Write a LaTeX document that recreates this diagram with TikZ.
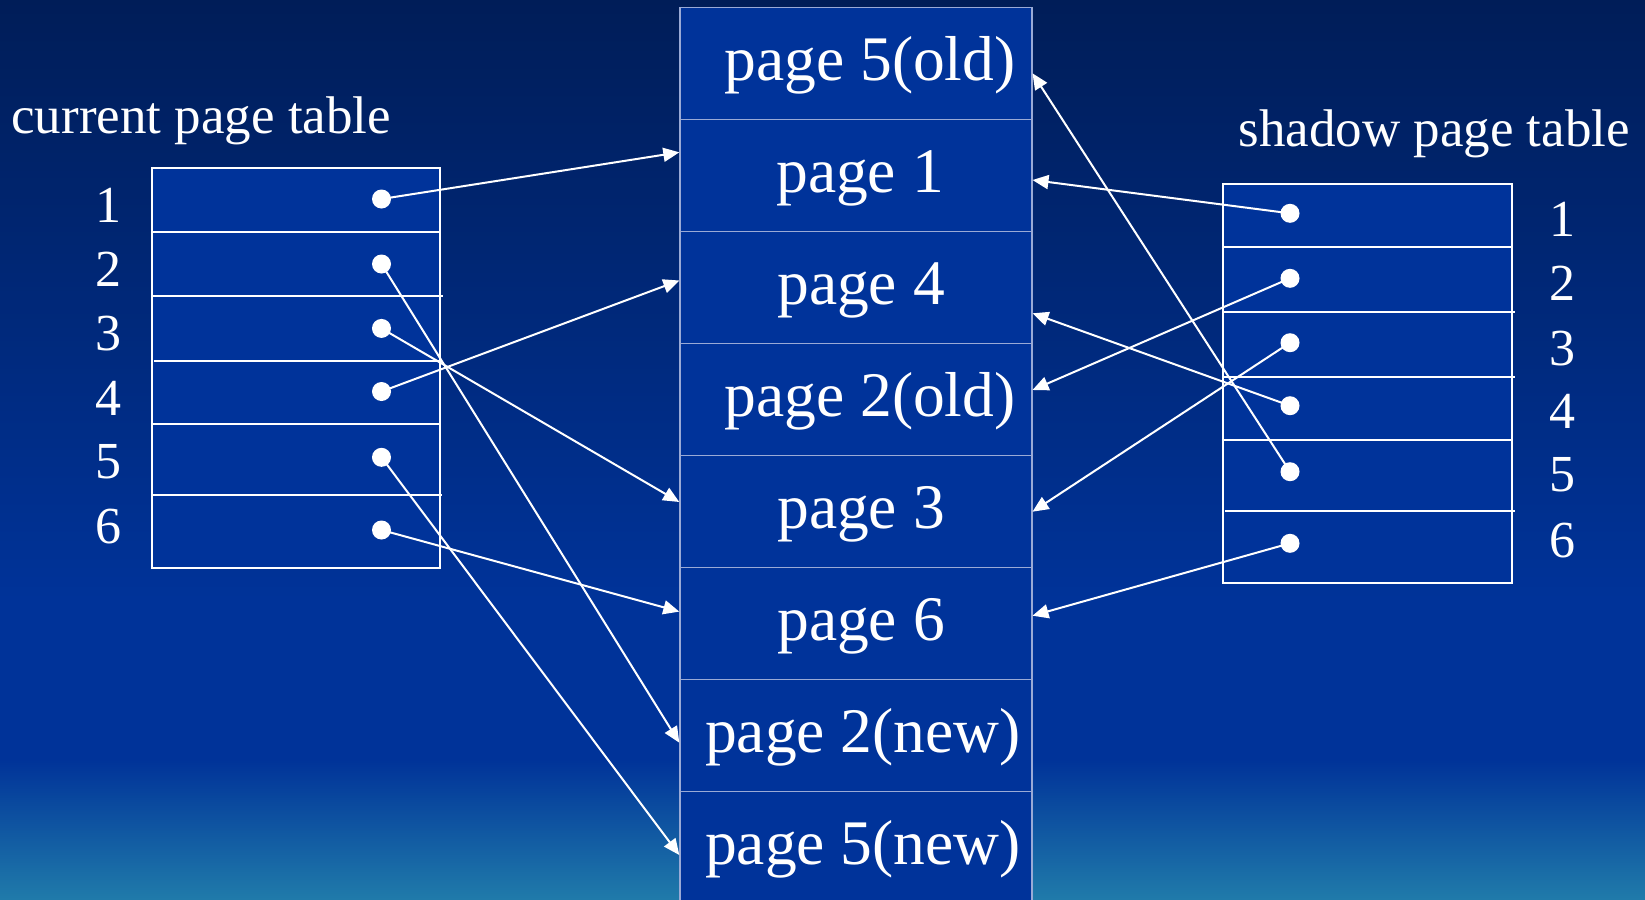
\documentclass[tikz,border=0pt]{standalone}
\usepackage{fontspec}
\setmainfont{Liberation Serif}
\usetikzlibrary{arrows.meta}

\definecolor{bgtop}{HTML}{001D58}
\definecolor{bgmid}{HTML}{003399}
\definecolor{bgbot}{HTML}{207BAA}
\definecolor{cellfill}{HTML}{00339A}
\definecolor{cellrule}{HTML}{9AAAD6}

\begin{document}
\begin{tikzpicture}[x=0.5pt,y=-0.5pt,
  cell/.style={draw=cellrule, line width=0.75pt, fill=cellfill,
    minimum width=176pt, minimum height=56pt, inner sep=0pt, outer sep=0pt},
  pagetext/.style={text=white, font=\fontsize{31.75pt}{36pt}\selectfont,
    anchor=base, inner sep=0pt},
  tablebox/.style={draw=white, line width=1pt, fill=cellfill,
    inner sep=0pt, outer sep=0pt},
  rowrule/.style={draw=white, line width=1pt},
  digit/.style={text=white, font=\fontsize{26pt}{30pt}\selectfont,
    anchor=base, inner sep=0pt},
  caption/.style={text=white, font=\fontsize{26.5pt}{30pt}\selectfont,
    anchor=base west, inner sep=0pt},
  dot/.style={circle, fill=white, minimum size=9.5pt, inner sep=0pt},
  link/.style={draw=white, line width=1pt,
    -{Triangle[length=8pt,width=7pt]}},
]
% background
\useasboundingbox (0,0) rectangle (1645,900);
\shade[top color=bgtop, bottom color=bgmid] (0,0) rectangle (1645,600);
\fill[bgmid] (0,599) rectangle (1645,761);
\shade[top color=bgmid, bottom color=bgbot] (0,760) rectangle (1645,900);

% storage pages
\node[cell] (m0) at (856,63.3)  {};
\node[cell] (m1) at (856,175.3) {};
\node[cell] (m2) at (856,287.3) {};
\node[cell] (m3) at (856,399.3) {};
\node[cell] (m4) at (856,511.3) {};
\node[cell] (m5) at (856,623.3) {};
\node[cell] (m6) at (856,735.3) {};
\node[cell] (m7) at (856,847.3) {};

\node[pagetext] (m0t) at (870,80.6)  {page 5(old)};
\node[pagetext] (m1t) at (860,192.6) {page 1};
\node[pagetext] (m2t) at (861,304.6) {page 4};
\node[pagetext] (m3t) at (870,416.6) {page 2(old)};
\node[pagetext] (m4t) at (861,528.6) {page 3};
\node[pagetext] (m5t) at (861,640.6) {page 6};
\node[pagetext] (m6t) at (863,752.6) {page 2(new)};
\node[pagetext] (m7t) at (863,864.6) {page 5(new)};

% current page table
\node[caption] (curcap) at (11,133.5) {current page table};
\node[tablebox, minimum width=144pt, minimum height=200.2pt] (cur) at (296,367.8) {};
\draw[rowrule] (152,231.5) -- (440,231.5);
\draw[rowrule] (152,295.8) -- (443,295.8);
\draw[rowrule] (154,360.5) -- (440,360.5);
\draw[rowrule] (152,423.6) -- (440,423.6);
\draw[rowrule] (152,494.8) -- (442,494.8);

\node[digit] (cn1) at (108,222.7) {1};
\node[digit] (cn2) at (108,286.3) {2};
\node[digit] (cn3) at (108,350.0) {3};
\node[digit] (cn4) at (108,415.0) {4};
\node[digit] (cn5) at (108,478.0) {5};
\node[digit] (cn6) at (108,543.0) {6};

% shadow page table
\node[caption] (shcap) at (1238,146.7) {shadow page table};
\node[tablebox, minimum width=144.3pt, minimum height=199.65pt] (sh) at (1367.7,383.65) {};
\draw[rowrule] (1223.4,247.3) -- (1512,247.3);
\draw[rowrule] (1223.4,311.7) -- (1514.5,311.7);
\draw[rowrule] (1223.4,376.7) -- (1514.5,376.7);
\draw[rowrule] (1223.4,440.0) -- (1512,440.0);
\draw[rowrule] (1225,510.7) -- (1514.5,510.7);

\node[digit] (sn1) at (1562.5,236.7) {1};
\node[digit] (sn2) at (1562.5,300.0) {2};
\node[digit] (sn3) at (1562.5,365.0) {3};
\node[digit] (sn4) at (1562.5,428.0) {4};
\node[digit] (sn5) at (1562.5,491.7) {5};
\node[digit] (sn6) at (1562.5,557.3) {6};

% arrow targets on the page borders
\coordinate (tl1) at (679.3,152.3);
\coordinate (tl2) at (679.3,742.7);
\coordinate (tl3) at (679.3,502.0);
\coordinate (tl4) at (679.3,280.5);
\coordinate (tl5) at (679.3,855.0);
\coordinate (tl6) at (679.3,611.6);
\coordinate (tr1) at (1032.5,180.0);
\coordinate (tr2) at (1032.5,390.0);
\coordinate (tr3) at (1032.5,511.7);
\coordinate (tr4) at (1032.5,313.3);
\coordinate (tr5) at (1032.5,73.3);
\coordinate (tr6) at (1032.5,615.7);

% entry pointers
\coordinate (cd1) at (381.5,199.0);
\coordinate (cd2) at (381.5,264.0);
\coordinate (cd3) at (381.5,328.4);
\coordinate (cd4) at (381.5,391.5);
\coordinate (cd5) at (381.5,457.3);
\coordinate (cd6) at (381.5,530.0);
\coordinate (sd1) at (1290,213.3);
\coordinate (sd2) at (1290,278.3);
\coordinate (sd3) at (1290,342.7);
\coordinate (sd4) at (1290,405.7);
\coordinate (sd5) at (1290,471.7);
\coordinate (sd6) at (1290,543.3);

\draw[link] (cd1) -- (tl1);
\draw[link] (cd2) -- (tl2);
\draw[link] (cd3) -- (tl3);
\draw[link] (cd4) -- (tl4);
\draw[link] (cd5) -- (tl5);
\draw[link] (cd6) -- (tl6);
\draw[link] (sd1) -- (tr1);
\draw[link] (sd2) -- (tr2);
\draw[link] (sd3) -- (tr3);
\draw[link] (sd4) -- (tr4);
\draw[link] (sd5) -- (tr5);
\draw[link] (sd6) -- (tr6);

\foreach \i in {1,...,6} {
  \node[dot] (cdot\i) at (cd\i) {};
  \node[dot] (sdot\i) at (sd\i) {};
}
\end{tikzpicture}
\end{document}
